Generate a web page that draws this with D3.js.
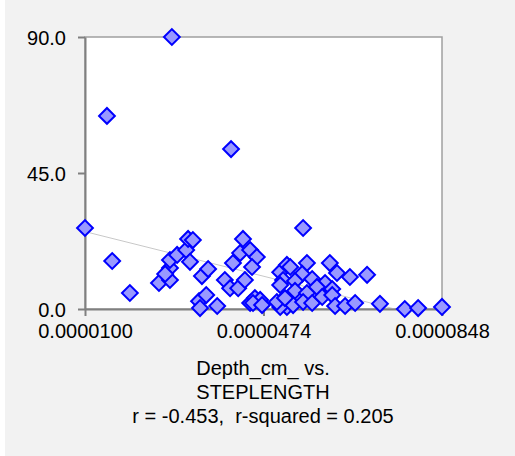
<!DOCTYPE html>
<html>
<head>
<meta charset="utf-8">
<script src="https://cdn.jsdelivr.net/npm/d3@7"></script>
<style>
  body { margin: 0; background: #ffffff; }
  svg { display: block; font-family: "Liberation Sans", Arial, sans-serif; }
</style>
</head>
<body>
<svg id="chart" width="515" height="456"></svg>
<script>
// depth (cm) values, x axis
const depth = [
  0.0000100, 0.0000282, 0.0000146, 0.0000406, 0.0000557, 0.0000157, 0.0000194, 0.0000255,
  0.0000278, 0.0000278, 0.0000278, 0.0000293, 0.0000312, 0.0000316, 0.0000326, 0.0000320,
  0.0000345, 0.0000358, 0.0000339, 0.0000341, 0.0000354, 0.0000377, 0.0000393, 0.0000410,
  0.0000425, 0.0000431, 0.0000446, 0.0000460, 0.0000450, 0.0000404, 0.0000421, 0.0000435,
  0.0000446, 0.0000456, 0.0000467, 0.0000509, 0.0000515, 0.0000509, 0.0000523, 0.0000530,
  0.0000515, 0.0000523, 0.0000509, 0.0000565, 0.0000555, 0.0000540, 0.0000576, 0.0000613,
  0.0000628, 0.0000655, 0.0000691, 0.0000603, 0.0000618, 0.0000540, 0.0000565, 0.0000586,
  0.0000536, 0.0000557, 0.0000576, 0.0000597, 0.0000618, 0.0000624, 0.0000645, 0.0000666,
  0.0000718, 0.0000770, 0.0000798, 0.0000848, 0.0000502, 0.0000519, 0.0000268, 0.0000452,
  0.0000471
];
// step length values, y axis
const stepLength = [
  26.8, 90.0, 63.9, 52.9, 26.8, 15.9, 5.3, 8.6,
  9.6, 13.6, 16.2, 17.9, 19.5, 23.2, 22.8, 15.6,
  10.9, 13.2, 2.6, 0.3, 4.6, 1.0, 9.6, 15.2,
  18.5, 23.2, 19.5, 17.2, 13.9, 6.9, 6.9, 9.6,
  2.0, 3.6, 3.0, 12.2, 9.6, 7.9, 14.6, 13.9,
  3.0, 0.7, 0.7, 15.2, 11.6, 9.3, 9.9, 15.2,
  11.9, 10.6, 11.3, 8.6, 6.6, 6.0, 5.3, 7.3,
  1.3, 2.3, 2.0, 4.0, 4.6, 1.0, 1.0, 2.0,
  1.7, 0.0, 0.3, 0.7, 2.3, 3.6, 11.6, 2.0,
  1.3
];
// fitted trend line ends, as seen in the picture
const trendX = [0.0000100, 0.0000848];
const trendY = [25.6, -3.9];

const xTicks = [0.0000100, 0.0000474, 0.0000848];
const yTicks = [0, 45, 90];
const titleLines = ["Depth_cm_ vs.", "STEPLENGTH", "r = -0.453,  r-squared = 0.205"];

const svg = d3.select("#chart");
const W = 515, H = 456;
const pLeft = 85, pRight = 442, pTop = 37, pBottom = 309;

svg.append("rect")
  .attr("x", 5).attr("y", 0)
  .attr("width", W - 5).attr("height", H)
  .attr("fill", "#f2f2f2");

svg.append("rect")
  .attr("x", pLeft).attr("y", pTop)
  .attr("width", pRight - pLeft).attr("height", pBottom - pTop)
  .attr("fill", "#ffffff")
  .attr("stroke", "#a0a0a0")
  .attr("stroke-width", 1.5);

const x = d3.scaleLinear().domain([0.0000100, 0.0000848]).range([pLeft, pRight]);
const y = d3.scaleLinear().domain([0, 90]).range([pBottom, pTop]);

svg.append("defs").append("clipPath").attr("id", "plotclip")
  .append("rect")
  .attr("x", pLeft).attr("y", pTop)
  .attr("width", pRight - pLeft).attr("height", pBottom - pTop);

// trend line
svg.append("line")
  .attr("clip-path", "url(#plotclip)")
  .attr("x1", x(trendX[0])).attr("y1", y(trendY[0]))
  .attr("x2", x(trendX[1])).attr("y2", y(trendY[1]))
  .attr("stroke", "#c8c8c8")
  .attr("stroke-width", 1);

const xAxis = d3.axisBottom(x)
  .tickValues(xTicks)
  .tickFormat(d3.format(".7f"))
  .tickSize(7)
  .tickSizeOuter(0)
  .tickPadding(8);

const yAxis = d3.axisLeft(y)
  .tickValues(yTicks)
  .tickFormat(d3.format(".1f"))
  .tickSize(7)
  .tickSizeOuter(0)
  .tickPadding(12);

const gx = svg.append("g")
  .attr("transform", "translate(0," + pBottom + ")")
  .call(xAxis);

const gy = svg.append("g")
  .attr("transform", "translate(" + pLeft + ",0)")
  .call(yAxis);

[gx, gy].forEach(g => {
  g.select(".domain").attr("stroke", "#808080").attr("stroke-width", 2);
  g.selectAll(".tick line").attr("stroke", "#808080").attr("stroke-width", 2);
  g.selectAll(".tick text")
    .attr("fill", "#000")
    .style("font-size", "20px")
    .style("font-family", "'Liberation Sans', Arial, sans-serif");
});
gy.selectAll(".tick text").attr("dy", "0.36em");

// points
const points = depth.map((d, i) => ({ d: d, v: stepLength[i] }));
const diamond = d3.symbol().type(d3.symbolSquare).size(125);

svg.append("g")
  .selectAll("path")
  .data(points)
  .enter()
  .append("path")
  .attr("d", diamond)
  .attr("transform", p => "translate(" + x(p.d) + "," + y(p.v) + ") rotate(45)")
  .attr("fill", "#9999ff")
  .attr("stroke", "#0000ff")
  .attr("stroke-width", 2);

svg.append("g")
  .selectAll("text")
  .data(titleLines)
  .enter()
  .append("text")
  .attr("x", 263)
  .attr("y", (d, i) => 375 + i * 24)
  .attr("text-anchor", "middle")
  .style("font-size", "20px")
  .style("white-space", "pre")
  .text(d => d);
</script>
</body>
</html>
